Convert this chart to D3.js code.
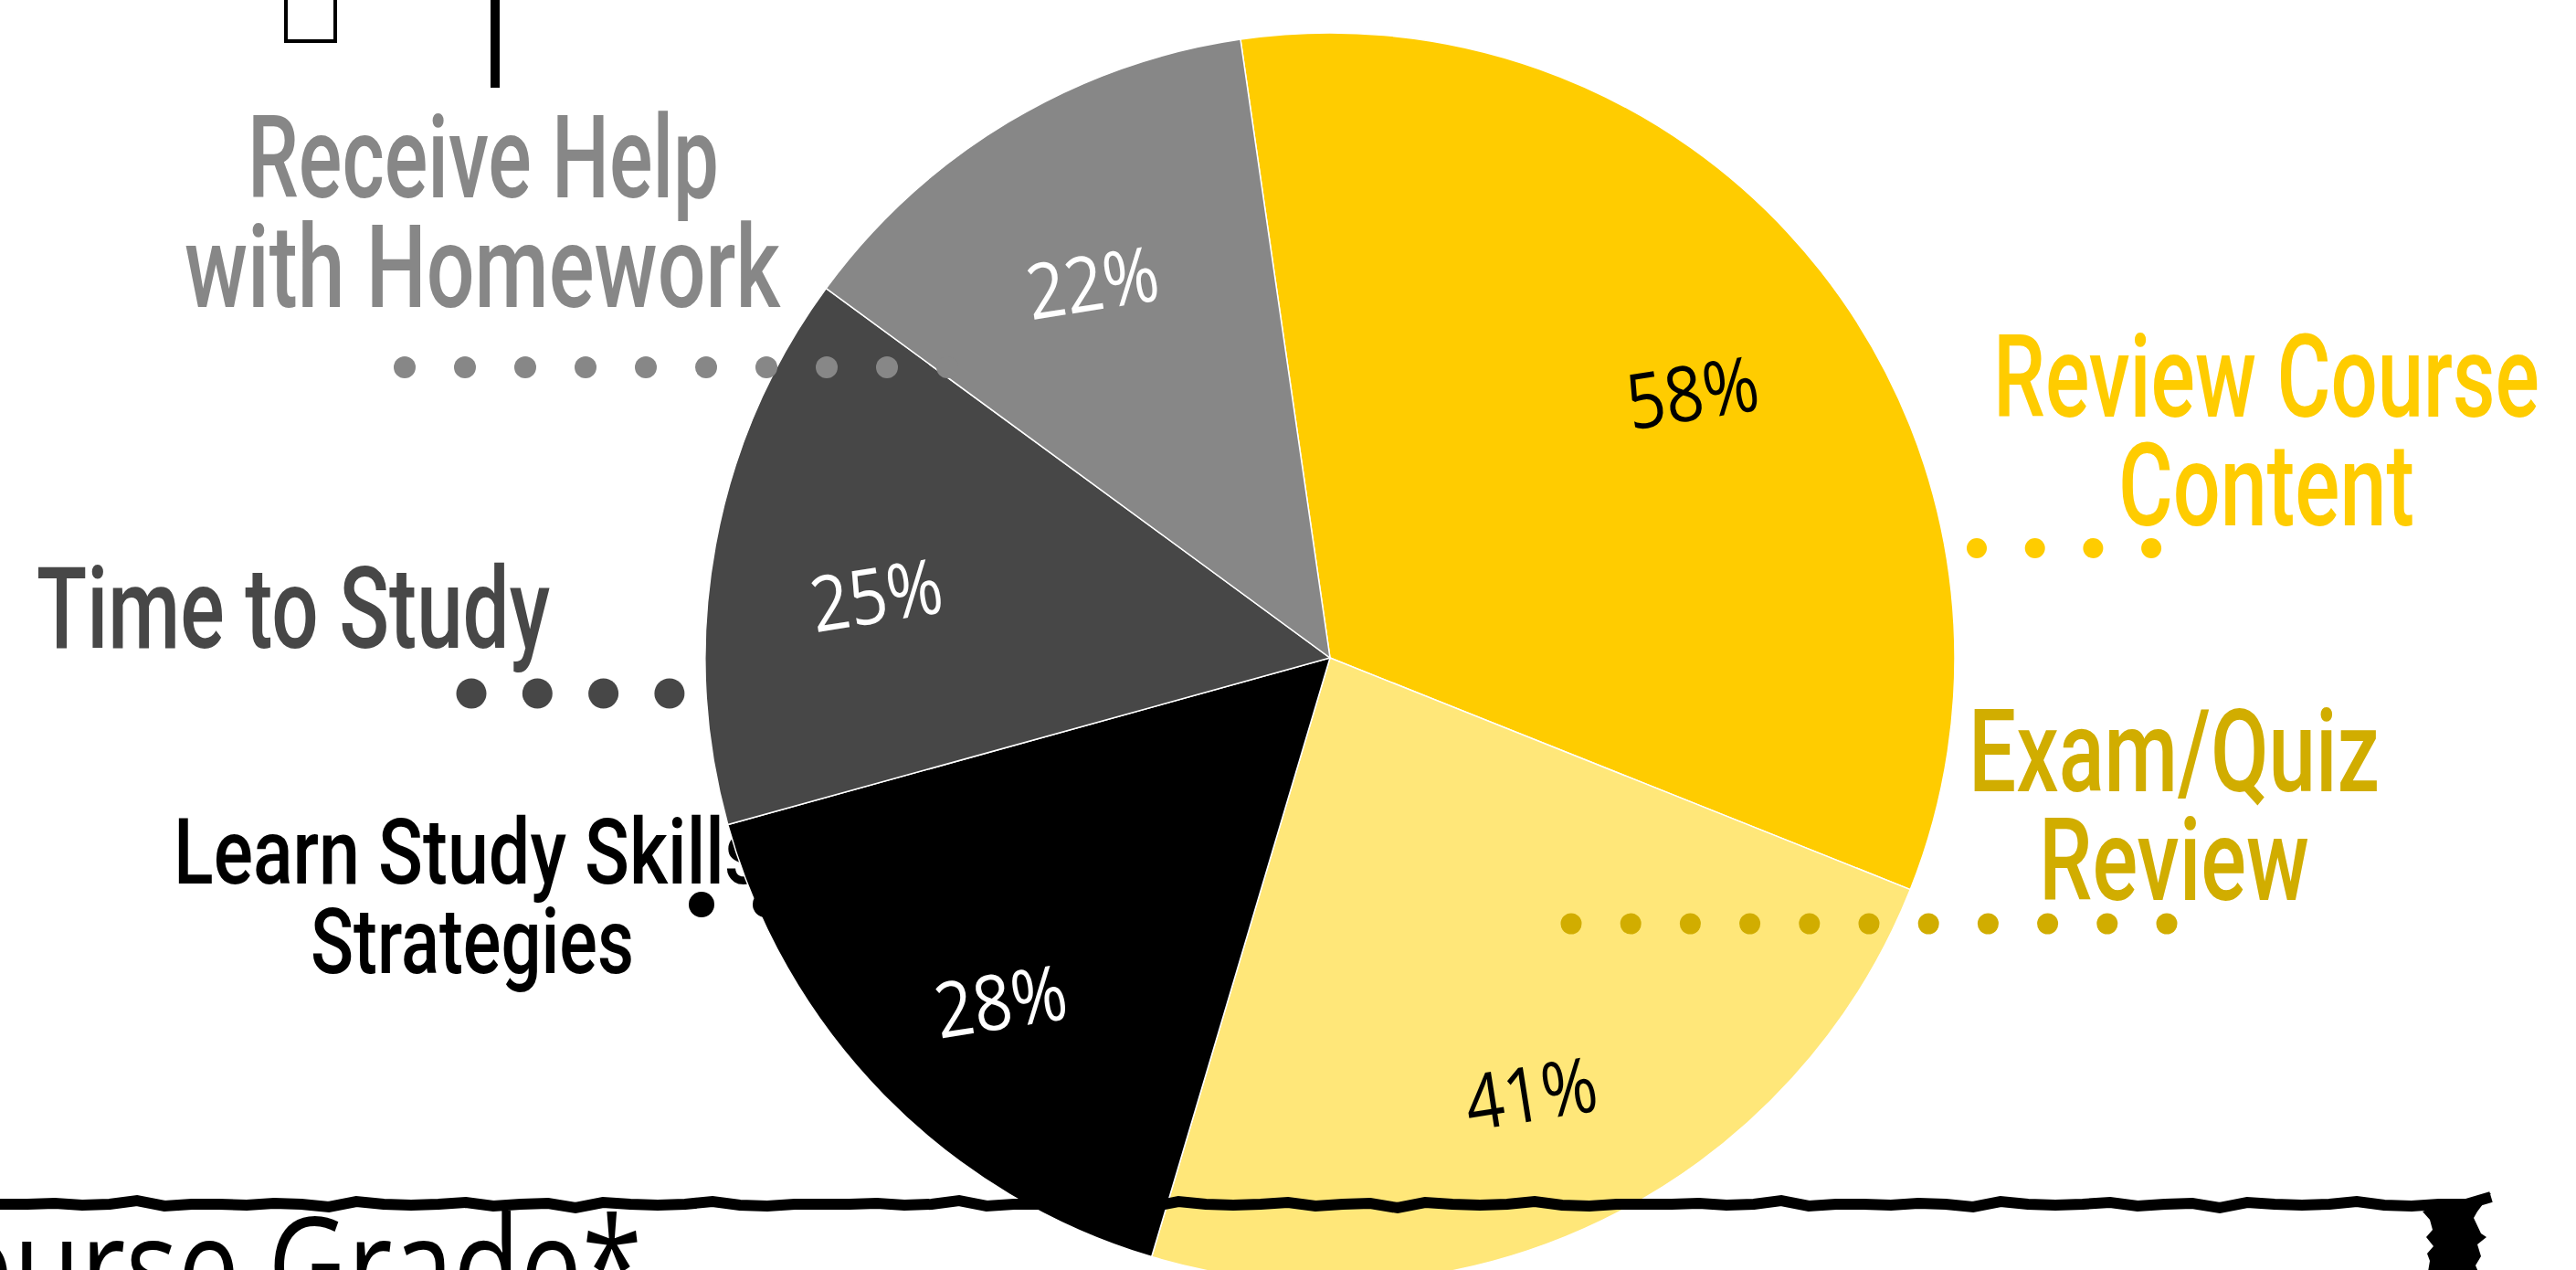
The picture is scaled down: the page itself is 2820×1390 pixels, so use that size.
<!DOCTYPE html>
<html>
<head>
<meta charset="utf-8">
<script src="https://cdn.jsdelivr.net/npm/d3@7"></script>
<style>body{margin:0;background:#fff;overflow:hidden}</style>
</head>
<body>
<script>
var categories=["Review Course Content","Exam/Quiz Review","Learn Study Skills/ Strategies","Time to Study","Receive Help with Homework"]
var values=[58,41,28,25,22]
var pctLabels=["58%","41%","28%","25%","22%"]
var labelLines=[["Review Course","Content"],["Exam/Quiz","Review"],["Learn Study Skills/","Strategies"],["Time to Study"],["Receive Help","with Homework"]]
var footerText="Course Grade*"

var sliceColors=["#ffcc00","#ffe779","#000000","#474747","#878787"]
var labelColors=["#ffcc00","#d1ad00","#000000","#474747","#878787"]
var pctColors=["#000000","#000000","#ffffff","#ffffff","#ffffff"]

// where each category label and its dotted leader sit
var labelPos=[
  {x:[2481,2481],y:[456,575],w:[598,324],size:127},
  {x:[2380,2380],y:[866,985],w:[450,296],size:127},
  {x:[528,517],y:[967,1065],w:[676,354],size:100},
  {x:[321],y:[709],w:[562],size:125},
  {x:[529,528],y:[216,336],w:[516,652],size:127}
]
var dotPos=[
  {y:600,x0:2164,step:63.7,n:4,r:11},
  {y:1011,x0:1720,step:65.2,n:11,r:11.5},
  {y:990,x0:768,step:70,n:2,r:14},
  {y:759,x0:516,step:72.3,n:4,r:16.5},
  {y:402,x0:443,step:66,n:10,r:12}
]

var screen={width:2820,height:1390}
var center={x:1456,y:720}
var radius=684
var start=-8.24*Math.PI/180

var svg=d3.select("body").append("svg")
          .attr("width",screen.width)
          .attr("height",screen.height)

// labels go under the pie (the slash is clipped by the black slice)
var labels=svg.append("g").classed("labels",true)
categories.forEach(function(c,i){
  var p=labelPos[i]
  labelLines[i].forEach(function(line,j){
    labels.append("text")
          .attr("x",p.x[j])
          .attr("y",p.y[j])
          .attr("text-anchor","middle")
          .attr("font-family","Roboto, 'Open Sans', sans-serif")
          .attr("font-weight",500)
          .attr("font-size",p.size)
          .attr("textLength",p.w[j])
          .attr("lengthAdjust","spacingAndGlyphs")
          .attr("fill",labelColors[i])
          .text(line)
  })
})

var pie=d3.pie().sort(null).startAngle(start).endAngle(start+2*Math.PI)
var arc=d3.arc().innerRadius(0).outerRadius(radius)
var labelArc=d3.arc().innerRadius(505).outerRadius(505)

var plotLand=svg.append("g")
                .classed("pie",true)
                .attr("transform","translate("+center.x+","+center.y+")")
var slices=plotLand.selectAll("path")
                   .data(pie(values))
                   .enter()
                   .append("path")
                   .attr("d",arc)
                   .attr("fill",function(d,i){return sliceColors[i]})
                   .attr("stroke","#ffffff")
                   .attr("stroke-width",1.5)
var pct=plotLand.selectAll("text")
                .data(pie(values))
                .enter()
                .append("text")
                .attr("transform",function(d){var c=labelArc.centroid(d);return "translate("+c[0]+","+(c[1]+22)+") rotate(-9) scale(0.92,1.05)"})
                .attr("text-anchor","middle")
                .attr("dy","0.36em")
                .attr("font-family","'Open Sans', sans-serif")
                .attr("font-size",80)
                .attr("fill",function(d,i){return pctColors[i]})
                .text(function(d,i){return pctLabels[i]})

// dotted leaders sit on top of the pie
var dots=svg.append("g").classed("dots",true)
categories.forEach(function(c,i){
  var p=dotPos[i]
  dots.selectAll(null)
      .data(d3.range(p.n))
      .enter()
      .append("circle")
      .attr("cx",function(k){return p.x0+k*p.step})
      .attr("cy",p.y)
      .attr("r",p.r)
      .attr("fill",labelColors[i])
})

// slide decoration: missing-glyph box and bar at the top
svg.append("rect").attr("x",313).attr("y",-10).attr("width",54).attr("height",55)
   .attr("fill","none").attr("stroke","#000").attr("stroke-width",4)
svg.append("rect").attr("x",537).attr("y",0).attr("width",10).attr("height",96).attr("fill","#000")

// hand drawn border at the bottom
var wiggle=[0,0,-1,1,0,-4,2,0,0,1,-1,0,3,-3,0,1,0,-2,2,0,-1,4,-2,0,1,0,-3,1,2,0]
var pts=[]
for(var x=0,k=0;x<=2700;x+=30,k++){pts.push([x,1318+wiggle[k%wiggle.length]])}
pts.push([2727,1310])
svg.append("path")
   .attr("d",d3.line()(pts))
   .attr("fill","none")
   .attr("stroke","#000")
   .attr("stroke-width",12)
   .attr("stroke-linejoin","miter")
svg.append("path")
   .attr("d","M2652,1326 L2668,1320 L2727,1306 L2712,1326 L2708,1333 L2716,1350 L2722,1354 L2712,1362 L2716,1375 L2710,1385 L2713,1392 L2658,1392 L2660,1380 L2657,1372 L2664,1364 L2656,1354 L2663,1346 L2660,1335 Z")
   .attr("fill","#000")

svg.append("text")
   .attr("x",-133)
   .attr("y",1440)
   .attr("font-family","'Open Sans', sans-serif")
   .attr("font-weight",400)
   .attr("font-size",150)
   .attr("textLength",836)
   .attr("lengthAdjust","spacingAndGlyphs")
   .attr("fill","#000")
   .text(footerText)
</script>
</body>
</html>
